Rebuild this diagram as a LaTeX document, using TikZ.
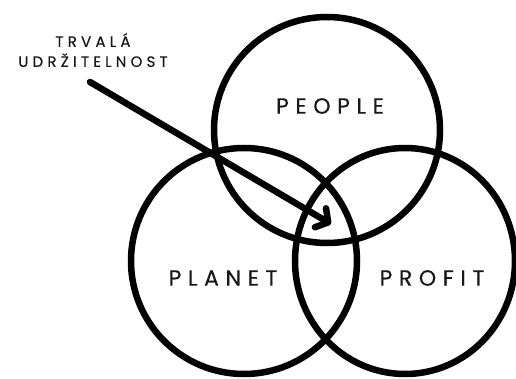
\documentclass[tikz,border=0pt]{standalone}
\usepackage{fontspec}
\setmainfont{Poppins}
\usetikzlibrary{arrows.meta,shapes.geometric}
\tikzset{
  ring/.style={circle,draw=black,line width=6.5pt,inner sep=0pt,minimum size=226pt},
  oval/.style={ellipse,draw=black,line width=6.5pt,inner sep=0pt,minimum width=220pt,minimum height=226pt},
  biglabel/.style={font=\fontsize{22}{24}\selectfont\addfontfeature{LetterSpace=30,FakeBold=0.35},text=black!90,inner sep=0pt},
  smalllabel/.style={font=\fontsize{15}{20}\selectfont\addfontfeature{LetterSpace=28,FakeBold=0.35},text=black!90,align=center,inner sep=0pt},
  pointer/.style={line width=6.5pt,line cap=round,line join=round,-{Straight Barb[length=9pt,width=22pt,line cap=round,line join=round]}}
}
\begin{document}
\begin{tikzpicture}[x=1pt,y=-1pt]
\useasboundingbox (0,0) rectangle (516,379);
\node[ring] (people) at (327,130) {};
\node[ring] (planet) at (244,261) {};
\node[oval] (profit) at (405,261) {};
\node[biglabel] (tpeople) at (330,106) {PEOPLE};
\node[biglabel] (tplanet) at (223,278) {PLANET};
\node[biglabel] (tprofit) at (432,278) {PROFIT};
\node[smalllabel] (title) at (93,50) {TRVALÁ\\UDRŽITELNOST};
\coordinate (start) at (90,82);
\coordinate (tip) at (331,224);
\draw[pointer] (start) -- (tip);
\end{tikzpicture}
\end{document}
